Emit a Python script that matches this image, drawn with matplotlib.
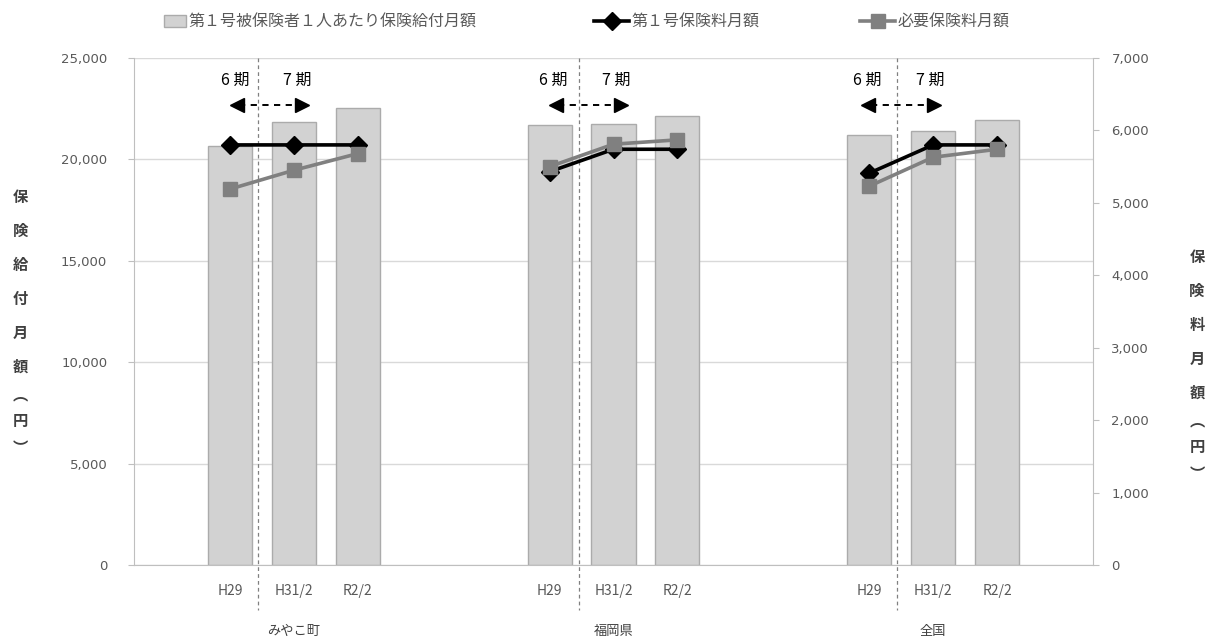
import numpy as np
import matplotlib
matplotlib.use("Agg")
import matplotlib.pyplot as plt
from matplotlib.patches import Patch
from matplotlib.ticker import FuncFormatter, MultipleLocator
from matplotlib.transforms import blended_transform_factory, ScaledTranslation

JP = ["Noto Sans CJK JP", "DejaVu Sans"]

# ---- data -------------------------------------------------------------
regions = ["みやこ町", "福岡県", "全国"]
periods = ["H29", "H31/2", "R2/2"]
# 第1号被保険者1人あたり保険給付月額 (円), left axis
benefit_monthly = [20660, 21840, 22540,
                   21700, 21750, 22140,
                   21200, 21400, 21940]
# 第1号保険料月額 (円), right axis
premium_monthly = [5800, 5800, 5800,
                   5430, 5740, 5740,
                   5410, 5800, 5800]
# 必要保険料月額 (円), right axis
required_premium = [5190, 5450, 5680,
                    5500, 5810, 5870,
                    5230, 5630, 5740]
series_names = ["第１号被保険者１人あたり保険給付月額", "第１号保険料月額", "必要保険料月額"]
period_names = ["6 期", "7 期"]
left_title = "保険給付月額︵円︶"
right_title = "保険料月額︵円︶"

# ---- layout -----------------------------------------------------------
W, H = 1215, 643
n_slots = 15                      # one empty slot on each side of every group
group_start = [1, 6, 11]
divider_x = [1.44, 6.46, 11.43]   # 6期 / 7期 boundary
arrow_l = [1.00, 5.98, 10.87]
arrow_r = [2.24, 7.23, 12.12]
label6_x = [1.08, 6.05, 10.97]
label7_x = [2.05, 7.05, 11.95]

positions = [g + i for g in group_start for i in range(len(periods))]


def slot_series(values):
    arr = np.full(n_slots, np.nan)
    arr[positions] = values
    return arr


fig = plt.figure(figsize=(W / 100, H / 100), dpi=100)
fig.patch.set_facecolor("white")
ax = fig.add_axes([134 / W, 1 - 565 / H, (1093 - 134) / W, (565 - 58) / H])
ax2 = ax.twinx()

grid_c = "#d9d9d9"
axis_c = "#bfbfbf"
tick_c = "#595959"
bar_fc = "#d2d2d2"
bar_ec = "#ababab"

# bars
ax.bar(positions, benefit_monthly, width=0.69, color=bar_fc,
       edgecolor=bar_ec, linewidth=1.0, zorder=2)

# lines
x_all = np.arange(n_slots)
l_prem, = ax2.plot(x_all, slot_series(premium_monthly), color="black", lw=2.6,
                   marker="D", ms=9, mfc="black", mec="black", zorder=4)
l_req, = ax2.plot(x_all, slot_series(required_premium), color="#808080", lw=2.6,
                  marker="s", ms=10, mfc="#808080", mec="#808080", zorder=5)

# axes limits and ticks
ax.set_xlim(-0.5, n_slots - 0.5)
ax.set_ylim(0, 25000)
ax2.set_ylim(0, 7000)
ax.yaxis.set_major_locator(MultipleLocator(5000))
ax2.yaxis.set_major_locator(MultipleLocator(1000))
fmt = FuncFormatter(lambda v, p: f"{int(v):,}")
ax.yaxis.set_major_formatter(fmt)
ax2.yaxis.set_major_formatter(fmt)

ax.set_xticks(positions)
ax.set_xticklabels(periods * len(regions), family=JP, fontsize=10, color=tick_c)
ax.tick_params(axis="x", length=0, pad=14)
ax.tick_params(axis="y", length=4.3, color=axis_c, labelcolor=tick_c, pad=15,
               labelsize=9.5)
ax2.tick_params(axis="y", length=4.3, color=axis_c, labelcolor=tick_c, pad=9,
                labelsize=9.5)

ax.set_axisbelow(True)
ax.yaxis.grid(True, color=grid_c, lw=1.0)

for s in ("top", "right"):
    ax.spines[s].set_visible(False)
for s in ("top", "left", "bottom"):
    ax2.spines[s].set_visible(False)
ax.spines["left"].set_color(axis_c)
ax.spines["bottom"].set_color(axis_c)
ax2.spines["right"].set_color(axis_c)

trans = blended_transform_factory(ax.transData, ax.transAxes)

# period dividers, arrows and labels
arrow_y = 0.907
text_y = 0.955
head_ms = 10.5
for g in range(len(regions)):
    ax.plot([divider_x[g]] * 2, [1.0, -0.089], transform=trans, color="#808080",
            lw=0.9, ls=(0, (3, 2.5)), clip_on=False, zorder=3)
    ax.plot([arrow_l[g] + 0.15, arrow_r[g] - 0.15], [arrow_y] * 2, transform=trans,
            color="black", lw=1.4, ls=(0, (3.2, 2.8)), clip_on=False, zorder=6)
    off = head_ms / 2 / 72
    ax.plot([arrow_l[g]], [arrow_y], marker="<", ms=head_ms, color="black",
            transform=trans + ScaledTranslation(off, 0, fig.dpi_scale_trans),
            clip_on=False, zorder=6)
    ax.plot([arrow_r[g]], [arrow_y], marker=">", ms=head_ms, color="black",
            transform=trans + ScaledTranslation(-off, 0, fig.dpi_scale_trans),
            clip_on=False, zorder=6)
    ax.text(label6_x[g], text_y, period_names[0], transform=trans, ha="center",
            va="center", family=JP, fontsize=11.5, color="black")
    ax.text(label7_x[g], text_y, period_names[1], transform=trans, ha="center",
            va="center", family=JP, fontsize=11.5, color="black")
    ax.text(group_start[g] + 1, -0.132, regions[g], transform=trans, ha="center",
            va="center", family=JP, fontsize=9.5, color="#404040")


# vertical axis titles, one character per line
def stack_text(x_px, y0_px, text):
    y = y0_px
    prev_paren = False
    for i, ch in enumerate(text):
        paren = ch in "︵︶"
        if i > 0:
            y += 27 if (paren or prev_paren) else 34
        fig.text(x_px / W, 1 - y / H, ch, ha="center", va="center", family=JP,
                 fontsize=11, fontweight="bold", color="#404040")
        prev_paren = paren


stack_text(20, 197, left_title)
stack_text(1197, 257, right_title)

# legend, three entries placed across the top
leg_y = 1 - 22 / H
bar_handle = Patch(facecolor=bar_fc, edgecolor=bar_ec, linewidth=1.0)
handles = [bar_handle, l_prem, l_req]
starts = [164, 594, 860]
hlens = [1.4, 2.2, 2.2]
for h, name, xs, hl in zip(handles, series_names, starts, hlens):
    lg = fig.legend([h], [name], loc="center left",
                    bbox_to_anchor=(xs / W, leg_y), frameon=False,
                    borderpad=0, borderaxespad=0, handlelength=hl,
                    handletextpad=0.15, handleheight=0.75,
                    prop={"family": JP, "size": 11.5})
    for t in lg.get_texts():
        t.set_color(tick_c)

fig.savefig("out.png", dpi=100, facecolor="white")
